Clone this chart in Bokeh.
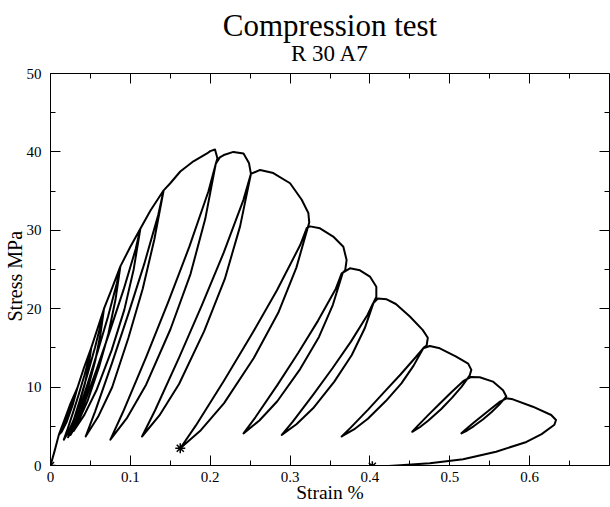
from bokeh.plotting import figure
from bokeh.models import LinearAxis, FixedTicker, CustomLabelingPolicy, Title
from bokeh.embed import file_html
from bokeh.resources import INLINE

# ---- data (strain in %, stress in MPa), in test order ----
initial_strain = [0.0, 0.005, 0.0104, 0.016, 0.025, 0.034]
initial_stress = [0.0, 1.8, 3.9, 5.0, 7.3, 10.0]

loop1_strain = [0.028, 0.020, 0.014, 0.0104, 0.016, 0.025, 0.034]
loop1_stress = [7.8, 5.5, 4.3, 3.9, 5.4, 7.9, 10.0]
env1_strain = [0.042, 0.051]
env1_stress = [12.5, 15.0]

loop2_strain = [0.0476, 0.0428, 0.0363, 0.0284, 0.0222, 0.0167, 0.0208, 0.0284, 0.0356, 0.0424, 0.0486, 0.051]
loop2_stress = [12.66, 10.32, 7.98, 5.64, 4.24, 3.3, 4.47, 6.81, 9.15, 11.49, 13.83, 15.0]
env2_strain = [0.059, 0.067]
env2_stress = [17.5, 20.0]

loop3_strain = [0.0625, 0.0562, 0.0477, 0.0373, 0.0292, 0.022, 0.0274, 0.0373, 0.0468, 0.0558, 0.0639, 0.067]
loop3_stress = [16.72, 13.44, 10.16, 6.88, 4.91, 3.6, 5.24, 8.52, 11.8, 15.08, 18.36, 20.0]
env3_strain = [0.077, 0.0875]
env3_stress = [22.6, 25.4]

loop4_strain = [0.0813, 0.0725, 0.0606, 0.0463, 0.035, 0.025, 0.0325, 0.0463, 0.0594, 0.0719, 0.0831, 0.0875]
loop4_stress = [21.1, 16.8, 12.5, 8.2, 5.62, 3.9, 6.05, 10.35, 14.65, 18.95, 23.25, 25.4]
env4_strain = [0.1, 0.1125]
env4_stress = [27.9, 30.2]

loop5_strain = [0.1042, 0.0925, 0.0766, 0.0574, 0.0424, 0.029, 0.039, 0.0574, 0.0749, 0.0916, 0.1067, 0.1125]
loop5_stress = [25.04, 19.88, 14.72, 9.56, 6.46, 4.4, 6.98, 12.14, 17.3, 22.46, 27.62, 30.2]
env5_strain = [0.125, 0.1417]
env5_stress = [32.5, 35.1]

loop6_strain = [0.130, 0.1155, 0.0975, 0.0772, 0.0596, 0.044, 0.0557, 0.0772, 0.0977, 0.1173, 0.1349, 0.1417]
loop6_stress = [28.82, 22.54, 16.26, 9.98, 6.21, 3.7, 6.84, 13.12, 19.4, 25.68, 31.96, 35.1]
env6_strain = [0.15, 0.1625, 0.179, 0.196, 0.2, 0.206, 0.209, 0.207]
env6_stress = [36.0, 37.5, 38.8, 39.8, 40.1, 40.3, 39.2, 38.5]

loop7_strain = [0.1938, 0.1753, 0.1502, 0.1199, 0.0961, 0.075, 0.0908, 0.1199, 0.1476, 0.174, 0.1978, 0.207]
loop7_stress = [31.46, 24.42, 17.38, 10.34, 6.12, 3.3, 6.82, 13.86, 20.9, 27.94, 34.98, 38.5]
env7_strain = [0.212, 0.217, 0.229, 0.2417, 0.2485, 0.251]
env7_stress = [39.3, 39.6, 40.0, 39.8, 38.6, 37.2]

loop8_strain = [0.2374, 0.2183, 0.1923, 0.161, 0.1364, 0.1146, 0.131, 0.161, 0.1896, 0.2169, 0.2415, 0.251]
loop8_stress = [30.5, 23.8, 17.1, 10.4, 6.38, 3.7, 7.05, 13.75, 20.45, 27.15, 33.86, 37.2]
env8_strain = [0.2625, 0.279, 0.3, 0.3146, 0.3229, 0.324]
env8_stress = [37.7, 37.3, 36.0, 33.9, 32.2, 31.0]

loop9_strain = [0.3079, 0.2852, 0.2546, 0.2174, 0.1883, 0.1625, 0.1819, 0.2174, 0.2513, 0.2836, 0.3127, 0.321]
loop9_stress = [25.24, 19.48, 13.72, 7.96, 4.5, 2.2, 5.08, 10.84, 16.6, 22.36, 28.12, 30.3]
env9_strain = [0.325, 0.3375, 0.354, 0.3667, 0.3708, 0.369, 0.366]
env9_stress = [30.5, 30.25, 29.2, 27.9, 26.2, 24.9, 24.6]

loop10_strain = [0.3536, 0.3362, 0.3126, 0.284, 0.2616, 0.2417, 0.2566, 0.284, 0.3101, 0.3349, 0.3573, 0.3646]
loop10_stress = [20.5, 16.4, 12.3, 8.2, 5.74, 4.1, 6.15, 10.25, 14.35, 18.45, 22.55, 24.5]
env10_strain = [0.375, 0.3875, 0.4, 0.408, 0.408, 0.405]
env10_stress = [25.15, 24.9, 24.1, 22.8, 21.5, 20.9]

loop11_strain = [0.3935, 0.3773, 0.3554, 0.3288, 0.308, 0.2896, 0.3034, 0.3288, 0.3531, 0.3762, 0.3969, 0.404]
loop11_stress = [17.5, 14.1, 10.7, 7.3, 5.26, 3.9, 5.6, 9.0, 12.4, 15.8, 19.2, 20.7]
env11_strain = [0.41, 0.421, 0.4325, 0.45, 0.466, 0.4725, 0.471, 0.467]
env11_stress = [21.3, 21.2, 20.6, 19.0, 17.3, 16.3, 15.3, 15.0]

loop12_strain = [0.4547, 0.4394, 0.4199, 0.3974, 0.38, 0.3646, 0.3759, 0.3974, 0.4178, 0.4383, 0.4578, 0.4667]
loop12_stress = [12.74, 10.48, 8.22, 5.96, 4.6, 3.7, 4.83, 7.09, 9.35, 11.61, 13.87, 14.95]
env12_strain = [0.475, 0.4875, 0.508, 0.523, 0.527, 0.525]
env12_stress = [15.24, 14.95, 13.9, 13.0, 12.2, 11.5]

loop13_strain = [0.5149, 0.5027, 0.489, 0.4732, 0.4624, 0.453, 0.4595, 0.4732, 0.4876, 0.502, 0.5171, 0.527]
loop13_stress = [10.06, 8.62, 7.18, 5.74, 4.88, 4.3, 5.02, 6.46, 7.9, 9.34, 10.78, 11.3]
env13_strain = [0.5375, 0.554, 0.5667, 0.5708, 0.569]
env13_stress = [11.25, 10.7, 9.6, 8.8, 8.6]

loop14_strain = [0.5614, 0.5521, 0.5418, 0.5298, 0.5217, 0.5146, 0.5195, 0.5298, 0.5407, 0.5516, 0.563, 0.571]
loop14_stress = [7.7, 6.8, 5.9, 5.0, 4.46, 4.1, 4.55, 5.45, 6.35, 7.25, 8.15, 8.57]

final_strain = [0.579, 0.604, 0.627, 0.633, 0.631, 0.615, 0.596, 0.558, 0.5167, 0.475, 0.4333, 0.4125, 0.403]
final_stress = [8.44, 7.5, 6.44, 5.8, 5.2, 4.0, 3.0, 1.76, 0.79, 0.28, 0.0, -0.12, -0.1]

# noisy clusters in the record (drawn as asterisks)
cluster_strain = [0.0, 0.403, 0.1625]
cluster_stress = [0.0, -0.1, 2.2]

x_ticks = [0, 0.1, 0.2, 0.3, 0.4, 0.5, 0.6]
x_tick_labels = ["0", "0.1", "0.2", "0.3", "0.4", "0.5", "0.6"]
x_minor_ticks = [0.05, 0.15, 0.25, 0.35, 0.45, 0.55, 0.65]
y_ticks = [0, 10, 20, 30, 40, 50]
y_minor_ticks = [5, 15, 25, 35, 45]
x_limits = (0, 0.7)
y_limits = (0, 50)

title_text = "Compression test"
subtitle_text = "R 30 A7"
x_label_text = "Strain %"
y_label_text = "Stress MPa"

segments = [
    (initial_strain, initial_stress),
    (loop1_strain, loop1_stress), (env1_strain, env1_stress),
    (loop2_strain, loop2_stress), (env2_strain, env2_stress),
    (loop3_strain, loop3_stress), (env3_strain, env3_stress),
    (loop4_strain, loop4_stress), (env4_strain, env4_stress),
    (loop5_strain, loop5_stress), (env5_strain, env5_stress),
    (loop6_strain, loop6_stress), (env6_strain, env6_stress),
    (loop7_strain, loop7_stress), (env7_strain, env7_stress),
    (loop8_strain, loop8_stress), (env8_strain, env8_stress),
    (loop9_strain, loop9_stress), (env9_strain, env9_stress),
    (loop10_strain, loop10_stress), (env10_strain, env10_stress),
    (loop11_strain, loop11_stress), (env11_strain, env11_stress),
    (loop12_strain, loop12_stress), (env12_strain, env12_stress),
    (loop13_strain, loop13_stress), (env13_strain, env13_stress),
    (loop14_strain, loop14_stress),
    (final_strain, final_stress),
]
strain = [v for s in segments for v in s[0]]
stress = [v for s in segments for v in s[1]]

FONT = "Liberation Serif"
W, H = 610, 507

p = figure(width=W, height=H, x_range=x_limits, y_range=y_limits,
           output_backend="svg", toolbar_location=None, title=None,
           x_axis_location=None, y_axis_location=None,
           min_border_left=50, min_border_right=1, min_border_top=73, min_border_bottom=42)
p.grid.visible = False
p.outline_line_color = "black"
p.outline_line_width = 1
p.background_fill_color = "white"
p.border_fill_color = "white"

p.line(strain, stress, line_color="black", line_width=2, line_join="round")
p.scatter(cluster_strain, cluster_stress, marker="asterisk", size=10,
          line_color="black", line_width=1.5)

xt = FixedTicker(ticks=x_ticks, minor_ticks=x_minor_ticks)
yt = FixedTicker(ticks=y_ticks, minor_ticks=y_minor_ticks)

no_labels = CustomLabelingPolicy(code="""
for (let i = 0; i < indices.size; i++) {
  if (indices.unset) { indices.unset(i) } else { indices.set(i, false) }
}
return indices
""")


def style(ax):
    ax.major_tick_in = 10
    ax.major_tick_out = 0
    ax.minor_tick_in = 5
    ax.minor_tick_out = 0
    ax.axis_line_color = "black"
    ax.major_tick_line_color = "black"
    ax.minor_tick_line_color = "black"
    ax.major_label_text_font = FONT
    ax.major_label_text_font_size = "15px"
    ax.major_label_text_color = "black"


xa = LinearAxis(ticker=xt)
ya = LinearAxis(ticker=yt)
top = LinearAxis(ticker=xt, fixed_location=y_limits[1], major_label_policy=no_labels)
right = LinearAxis(ticker=yt, fixed_location=x_limits[1], major_label_policy=no_labels)
for ax in (xa, ya, top, right):
    style(ax)
xa.major_label_overrides = dict(zip(x_ticks, x_tick_labels))
xa.major_label_standoff = 6
ya.major_label_standoff = 9

p.add_layout(xa, "below")
p.add_layout(ya, "left")
p.add_layout(top, "above")
p.add_layout(right, "right")


def title(txt, size, standoff, **kw):
    return Title(text=txt, text_font=FONT, text_font_size=size, text_font_style="normal",
                 text_color="black", standoff=standoff, **kw)


# panels stack outward from the frame in the order they are added
p.add_layout(title(subtitle_text, "23px", 15, align="center", vertical_align="bottom"), "above")
p.add_layout(title(title_text, "31px", -23, align="center", vertical_align="bottom"), "above")
p.add_layout(title(x_label_text, "19.5px", -5, align="center", vertical_align="top"), "below")
p.add_layout(title(y_label_text, "20px", -5, align="left", offset=144, vertical_align="bottom"), "left")

open("out.html", "w").write(file_html(p, INLINE))
